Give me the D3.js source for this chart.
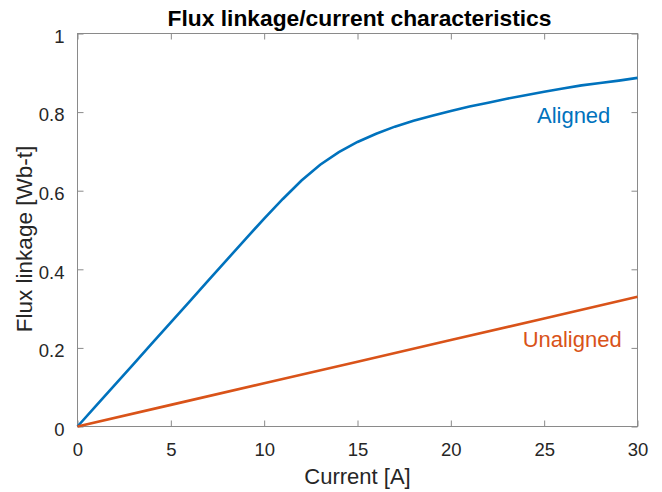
<!DOCTYPE html>
<html>
<head>
<meta charset="utf-8">
<script src="https://cdn.jsdelivr.net/npm/d3@7"></script>
<style>
  body { margin: 0; background: #fff; }
  text { font-family: "Liberation Sans", Arial, sans-serif; }
</style>
</head>
<body>
<svg id="chart" width="662" height="492"></svg>
<script>
// current [A]
const alignedCurrent = [0, 1, 2, 3, 4, 5, 6, 7, 8, 9, 10, 11, 12, 13, 14, 15, 16, 17, 18, 19, 20, 21, 22, 23, 24, 25, 26, 27, 28, 29, 30];
// flux linkage [Wb-t], aligned rotor
const alignedFlux = [0, 0.053, 0.106, 0.159, 0.212, 0.265, 0.318, 0.371, 0.424, 0.477, 0.529, 0.579, 0.626, 0.666, 0.698, 0.724, 0.745, 0.763, 0.778, 0.791, 0.803, 0.814, 0.824, 0.834, 0.843, 0.852, 0.86, 0.868, 0.874, 0.88, 0.887];
const unalignedCurrent = [0, 5, 10, 15, 20, 25, 30];
const unalignedFlux = [0, 0.055, 0.11, 0.165, 0.22, 0.275, 0.33];

const xTicks = [0, 5, 10, 15, 20, 25, 30];
const yTicks = [0, 0.2, 0.4, 0.6, 0.8, 1];

const margin = { top: 33.5, right: 24.5, bottom: 65.5, left: 77.5 };
const width = 662 - margin.left - margin.right;
const height = 492 - margin.top - margin.bottom;

const svg = d3.select("#chart");
const g = svg.append("g")
  .attr("transform", `translate(${margin.left},${margin.top})`);

const x = d3.scaleLinear().domain([0, 30]).range([0, width]);
const y = d3.scaleLinear().domain([0, 1]).range([height, 0]);

const axisColor = "#8a8a8a";
const labelColor = "#262626";

// box
g.append("rect")
  .attr("width", width)
  .attr("height", height)
  .attr("fill", "none")
  .attr("stroke", axisColor)
  .attr("stroke-width", 1);

// bottom & left axes with labels, ticks pointing inward
g.append("g")
  .attr("transform", `translate(0,${height})`)
  .call(d3.axisBottom(x).tickValues(xTicks).tickSize(-6).tickPadding(16).tickFormat(d3.format("d")));
g.append("g")
  .attr("class", "y-axis")
  .call(d3.axisLeft(y).tickValues(yTicks).tickSize(-6).tickPadding(13).tickFormat(d => d === 0 || d === 1 ? d : d3.format(".1f")(d)));
// top & right ticks
g.append("g")
  .call(d3.axisTop(x).tickValues(xTicks).tickSize(-6).tickFormat(""));
g.append("g")
  .attr("transform", `translate(${width},0)`)
  .call(d3.axisRight(y).tickValues(yTicks).tickSize(-6).tickFormat(""));

g.selectAll(".domain").remove();
g.selectAll(".tick line").attr("stroke", axisColor);
g.selectAll(".tick text")
  .attr("fill", labelColor)
  .style("font-size", "18.5px")
  .style("font-family", "'Liberation Sans', Arial, sans-serif");
g.selectAll(".y-axis .tick text").attr("dy", "0.47em");

// lines
const line = d3.line()
  .x(d => x(d[0]))
  .y(d => y(d[1]));

g.append("path")
  .datum(alignedCurrent.map((c, i) => [c, alignedFlux[i]]))
  .attr("d", line)
  .attr("fill", "none")
  .attr("stroke", "#0072BD")
  .attr("stroke-width", 2.6);

g.append("path")
  .datum(unalignedCurrent.map((c, i) => [c, unalignedFlux[i]]))
  .attr("d", line)
  .attr("fill", "none")
  .attr("stroke", "#D95319")
  .attr("stroke-width", 2.6);

// annotations
g.append("text")
  .attr("x", x(26.58))
  .attr("y", y(0.773))
  .attr("text-anchor", "middle")
  .attr("fill", "#0072BD")
  .style("font-size", "22px")
  .text("Aligned");

g.append("text")
  .attr("x", x(26.5))
  .attr("y", y(0.203))
  .attr("text-anchor", "middle")
  .attr("fill", "#D95319")
  .style("font-size", "22px")
  .text("Unaligned");

// title
svg.append("text")
  .attr("x", margin.left + width / 2 + 2)
  .attr("y", 26)
  .attr("text-anchor", "middle")
  .attr("fill", "#000")
  .style("font-size", "22.8px")
  .style("font-weight", "bold")
  .text("Flux linkage/current characteristics");

// axis labels
svg.append("text")
  .attr("x", margin.left + width / 2)
  .attr("y", 484)
  .attr("text-anchor", "middle")
  .attr("fill", labelColor)
  .style("font-size", "22px")
  .text("Current [A]");

svg.append("text")
  .attr("transform", `translate(32,239) rotate(-90)`)
  .attr("text-anchor", "middle")
  .attr("fill", labelColor)
  .style("font-size", "22.5px")
  .text("Flux linkage [Wb-t]");
</script>
</body>
</html>
